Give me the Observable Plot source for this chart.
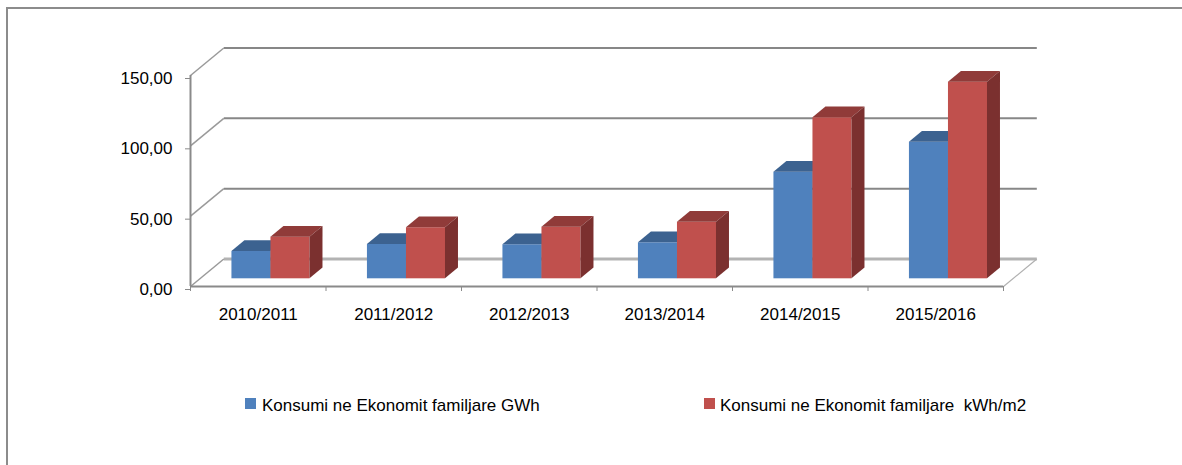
<!DOCTYPE html>
<html>
<head>
<meta charset="utf-8">
<script src="https://cdn.jsdelivr.net/npm/d3@7"></script>
<script src="https://cdn.jsdelivr.net/npm/@observablehq/plot@0.6"></script>
<style>
  html, body { margin: 0; padding: 0; background: #fff; }
  body { width: 1182px; height: 465px; position: relative; overflow: hidden; font-family: 'Liberation Sans', Arial, sans-serif; }
  #chart { position: absolute; left: 0; top: 0; }
  #frame { position: absolute; left: 6px; top: 7px; width: 1300px; height: 600px; border-top: 2px solid #8c8c8c; border-left: 2px solid #8c8c8c; pointer-events: none; }
  .legend-swatch { position: absolute; width: 11px; height: 11px; }
  .legend-label { position: absolute; font-size: 17px; line-height: 20px; color: #000; white-space: pre; }
</style>
</head>
<body>
<div id="chart"></div>
<div id="legend"></div>
<div id="frame"></div>
<script>
// ---- data ----
const categories = ["2010/2011", "2011/2012", "2012/2013", "2013/2014", "2014/2015", "2015/2016"];
const seriesNames = ["Konsumi ne Ekonomit familjare GWh", "Konsumi ne Ekonomit familjare  kWh/m2"];
const consumptionGWh = [19.4, 24.4, 24.2, 25.6, 75.8, 97.1];
const consumptionKWhM2 = [29.6, 36.3, 36.7, 40.2, 114.5, 139.8];
const yTicks = [0, 50, 100, 150];

// ---- styling / pseudo-3D projection constants ----
const frontColors = ["#4f81bd", "#c0504d"];
const topColors = ["#3c6290", "#903b39"];
const sideColors = ["#385a85", "#7b302f"];
const DX = 0.2458;   // depth offset in x units (band widths)
const DY = 19.55;    // depth offset in y units
const T0 = 0.28;     // depth position of bar front faces
const TB = 0.39;     // bar depth
const BAR_W = 0.288; // bar width (band units)
const PAIR_C = 0.525;

const seriesValues = [consumptionGWh, consumptionKWhM2];
const fronts = [], tops = [], sides = [];
categories.forEach((cat, i) => {
  seriesValues.forEach((vals, s) => {
    const v = vals[i];
    const id = cat + "-" + s;
    const x1 = i + PAIR_C + (s - 1) * BAR_W + T0 * DX;
    const x2 = x1 + BAR_W;
    const yb = T0 * DY;
    fronts.push({s, id, x1, x2, y1: yb, y2: v + yb});
    tops.push({s, id, y: v + yb, x1, x2});
    tops.push({s, id, y: v + yb + TB * DY, x1: x1 + TB * DX, x2: x2 + TB * DX});
    sides.push({s, id, x: x2, y1: yb, y2: v + yb});
    sides.push({s, id, x: x2 + TB * DX, y1: yb + TB * DY, y2: v + yb + TB * DY});
  });
});

const nCat = categories.length;
const wallDiagonals = yTicks.map(t => ({x1: 0, y1: t, x2: DX, y2: t + DY}));

const barMarks = [];
[0, 1].forEach(s => {
  barMarks.push(Plot.rect(fronts.filter(d => d.s === s), {x1: "x1", x2: "x2", y1: "y1", y2: "y2", fill: frontColors[s]}));
  barMarks.push(Plot.areaX(tops.filter(d => d.s === s), {y: "y", x1: "x1", x2: "x2", z: "id", fill: topColors[s]}));
  barMarks.push(Plot.areaY(sides.filter(d => d.s === s), {x: "x", y1: "y1", y2: "y2", z: "id", fill: sideColors[s]}));
});

const chart = Plot.plot({
  width: 1182,
  height: 340,
  marginLeft: 190,
  marginRight: 179,
  marginTop: 75,
  marginBottom: 54,
  style: {fontFamily: "'Liberation Sans', Arial, sans-serif", fontSize: "17px", color: "#000", background: "transparent"},
  x: {domain: [0, nCat], axis: null},
  y: {domain: [0, 150], axis: null},
  marks: [
    // back wall gridlines
    Plot.link(yTicks.filter(t => t > 0), {x1: () => DX, x2: () => nCat + DX, y1: t => t + DY, y2: t => t + DY, stroke: "#878787", strokeWidth: 2}),
    Plot.link([0], {x1: () => DX, x2: () => nCat + DX, y1: t => t + DY, y2: t => t + DY, stroke: "#b3b3b3", strokeWidth: 3}),
    // left wall diagonals
    Plot.link(wallDiagonals, {x1: "x1", y1: "y1", x2: "x2", y2: "y2", stroke: "#9a9a9a", strokeWidth: 1.5}),
    // right floor edge
    Plot.link([0], {x1: () => nCat, y1: () => 0, x2: () => nCat + DX, y2: () => DY, stroke: "#b0b0b0", strokeWidth: 1.2}),
    // front axis lines
    Plot.ruleX([0], {y1: 0, y2: 150, stroke: "#8a8a8a", strokeWidth: 2}),
    Plot.ruleY([0], {x1: 0, x2: nCat, stroke: "#8a8a8a", strokeWidth: 2}),
    ...barMarks,
    Plot.axisY({ticks: yTicks, tickSize: 5, tickPadding: 13, tickFormat: d => d.toFixed(2).replace(".", ","), stroke: "#8a8a8a", fill: "#000", label: null, dy: 3}),
    Plot.axisX({ticks: d3.range(nCat + 1), tickSize: 5, tickFormat: () => "", stroke: "#8a8a8a", label: null}),
    Plot.text(categories, {x: (d, i) => i + 0.5, y: () => 0, dy: 28.5, text: d => d, fill: "#000"})
  ]
});
document.getElementById("chart").appendChild(chart);

// legend below the chart
const legend = document.getElementById("legend");
const legendPos = [{sw: 245, tx: 262}, {sw: 704, tx: 720}];
seriesNames.forEach((name, s) => {
  const sw = document.createElement("div");
  sw.className = "legend-swatch";
  sw.style.left = legendPos[s].sw + "px";
  sw.style.top = "398px";
  sw.style.background = frontColors[s];
  legend.appendChild(sw);
  const lb = document.createElement("div");
  lb.className = "legend-label";
  lb.style.left = legendPos[s].tx + "px";
  lb.style.top = "396px";
  lb.textContent = name;
  legend.appendChild(lb);
});
</script>
</body>
</html>
